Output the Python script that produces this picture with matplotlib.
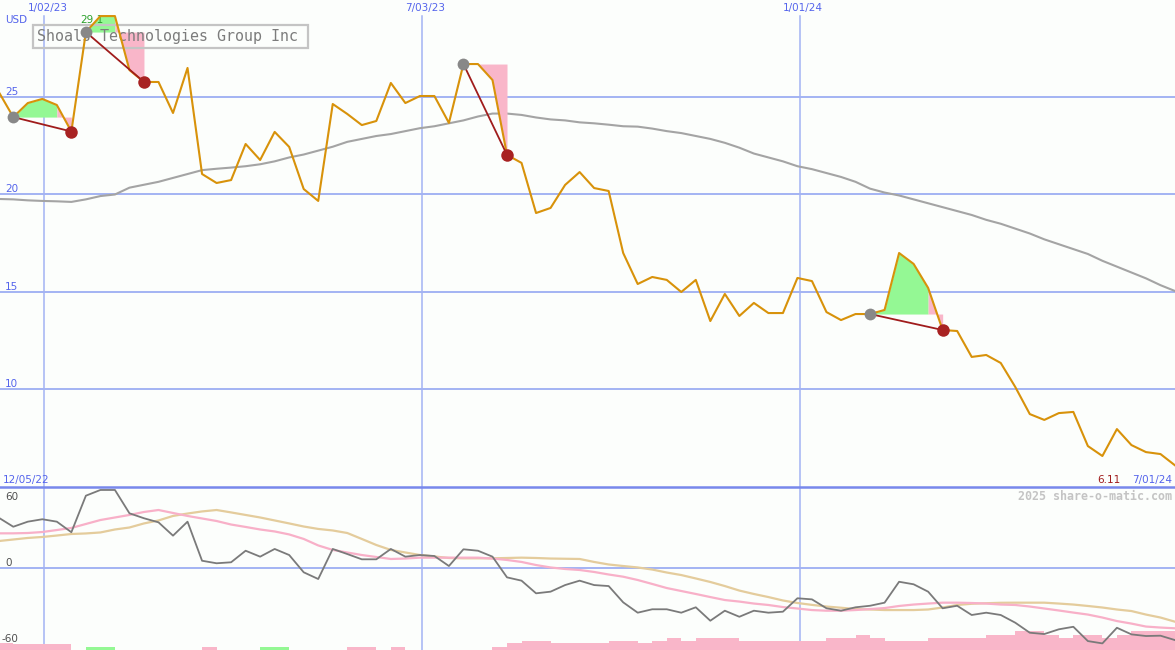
import pandas as pd
import numpy as np
import matplotlib
matplotlib.use('Agg')
import matplotlib.pyplot as plt
import matplotlib.transforms as mtransforms
from matplotlib.lines import Line2D
from matplotlib.patches import Rectangle

######################### Data ###############################################
first_week = '2022-12-11'
title = 'Shoals Technologies Group Inc'

# weekly closes (USD)
close = [25.26, 23.97, 24.69, 24.90, 24.59, 23.23, 28.33, 29.15, 29.15, 26.38,
         25.77, 25.77, 24.18, 26.49, 21.05, 20.59, 20.74, 22.59, 21.77, 23.21,
         22.44, 20.28, 19.67, 24.64, 24.13, 23.56, 23.77, 25.72, 24.69, 25.05,
         25.05, 23.67, 26.69, 26.69, 25.87, 22.03, 21.62, 19.05, 19.31, 20.49,
         21.15, 20.33, 20.18, 17.00, 15.41, 15.77, 15.62, 15.00, 15.62, 13.51,
         14.90, 13.77, 14.44, 13.92, 13.92, 15.72, 15.56, 13.97, 13.56, 13.87,
         13.87, 14.08, 17.00, 16.44, 15.21, 13.05, 13.00, 11.67, 11.77, 11.36,
         10.13, 8.74, 8.44, 8.79, 8.85, 7.10, 6.59, 7.97, 7.15, 6.79,
         6.69, 6.11]

# long moving average
ma_long = [19.77, 19.75, 19.70, 19.67, 19.65, 19.62, 19.75, 19.92, 20.00, 20.35,
           20.50, 20.65, 20.85, 21.05, 21.25, 21.32, 21.38, 21.45, 21.55, 21.70,
           21.90, 22.05, 22.25, 22.45, 22.70, 22.85, 23.00, 23.10, 23.25, 23.40,
           23.50, 23.65, 23.80, 24.00, 24.15, 24.15, 24.08, 23.95, 23.85, 23.80,
           23.70, 23.65, 23.58, 23.50, 23.48, 23.38, 23.25, 23.15, 23.00, 22.85,
           22.65, 22.40, 22.10, 21.90, 21.70, 21.45, 21.30, 21.10, 20.90, 20.65,
           20.30, 20.10, 19.95, 19.75, 19.55, 19.35, 19.15, 18.95, 18.70, 18.50,
           18.25, 18.00, 17.70, 17.45, 17.20, 16.95, 16.60, 16.30, 16.00, 15.70,
           15.35, 15.05]

# lower panel oscillator and its two averages
osc = [45.7, 37.5, 42.1, 44.3, 42.1, 32.5, 65.7, 70.9, 70.9, 49.7,
       45.2, 41.5, 29.4, 42.1, 6.6, 4.3, 5.2, 15.7, 10.3, 17.3,
       11.8, -3.9, -10.0, 17.3, 12.7, 7.9, 7.9, 17.3, 10.3, 11.8,
       10.9, 1.8, 17.0, 15.7, 10.3, -8.5, -11.5, -23.0, -21.5, -15.5,
       -11.5, -15.5, -16.4, -31.2, -40.6, -37.5, -37.5, -40.6, -35.7, -47.9,
       -38.8, -44.3, -38.8, -40.6, -39.7, -27.5, -28.5, -36.6, -38.8, -35.7,
       -34.3, -31.5, -12.5, -14.8, -21.5, -36.6, -34.3, -42.7, -40.6, -42.7,
       -49.7, -58.8, -60.0, -55.7, -53.4, -66.4, -68.5, -54.3, -60.3, -61.8,
       -61.5, -65.5]

osc_fast = [31.5, 31.5, 31.8, 32.7, 34.5, 36.4, 40.0, 43.6, 45.9, 48.2,
            50.9, 52.7, 50.0, 47.3, 45.0, 42.7, 39.5, 37.3, 35.0, 33.2,
            30.5, 26.4, 20.5, 16.4, 14.1, 11.8, 10.0, 8.2, 8.6, 9.4,
            9.4, 9.4, 9.4, 9.4, 8.6, 7.3, 5.5, 2.7, 0.5, -0.9,
            -1.8, -3.6, -5.9, -7.9, -10.9, -14.5, -18.2, -20.9, -23.6, -26.4,
            -29.1, -30.5, -32.3, -33.6, -35.5, -36.8, -38.2, -38.8, -38.8, -38.2,
            -37.3, -36.4, -34.5, -33.2, -32.3, -31.5, -31.5, -31.8, -32.3, -33.2,
            -33.6, -35.0, -36.8, -38.6, -40.5, -42.3, -45.0, -48.2, -50.5, -53.2,
            -54.1, -54.8]

osc_slow = [24.5, 25.9, 27.3, 28.2, 29.5, 30.9, 31.4, 32.3, 35.0, 36.8,
            40.5, 43.2, 47.3, 49.5, 51.4, 52.7, 50.5, 48.2, 45.9, 43.2,
            40.5, 37.7, 35.5, 34.1, 31.8, 26.4, 20.9, 16.4, 14.1, 11.8,
            10.5, 9.1, 8.8, 8.8, 8.8, 9.1, 9.4, 9.1, 8.6, 8.4,
            8.2, 5.5, 3.2, 1.8, 0.5, -1.4, -4.1, -6.4, -9.5, -12.7,
            -16.4, -20.5, -23.6, -26.4, -29.5, -31.8, -33.5, -35.0, -36.1, -37.3,
            -37.7, -38.2, -38.2, -38.2, -37.7, -35.9, -33.6, -32.5, -32.0, -31.6,
            -31.5, -31.5, -31.5, -32.3, -33.2, -34.5, -35.9, -37.7, -39.1, -42.3,
            -45.0, -48.8]

# signal bars at the bottom (+ green, - pink)
signal_bars = [-6.4, -5, -5, -5, -5, 0, 3, 3, 0, 0,
               0, 0, 0, 0, -3, 0, 0, 0, 3, 3,
               0, 0, 0, 0, -3, -3, 0, -3, 0, 0,
               0, 0, 0, 0, -3, -6, -8, -8, -6, -6,
               -6, -6, -8, -8, -6, -8, -11, -8, -11, -11,
               -11, -8, -8, -8, -8, -8, -8, -11, -11, -13.5,
               -11, -8, -8, -8, -11, -11, -11, -11, -13.5, -13.5,
               -17, -17, -13.5, -11, -13.5, -13.5, -11, -13.5, -17, -17,
               -17, 0]

# trades: positions in the weekly series
buy_weeks = [1, 6, 32, 60]
sell_weeks = [5, 10, 35, 65]

grid_dates = ['2023-01-02', '2023-07-03', '2024-01-01']
grid_labels = ['1/02/23', '7/03/23', '1/01/24']
price_ticks = [25, 20, 15, 10]
osc_ticks = [60, 0, -60]
peak_label = '29.1'
range_start, range_end = '12/05/22', '7/01/24'
last_close_label = '6.11'

######################### Style ##############################################
W, H = 1175, 650
BG = '#fcfefc'
GRID = '#a3b3f3'
BLUE = '#5464ec'
PRICE = '#d8920a'
GREEN = '#94f894'
PINK = '#f9b6c9'

def fx(x):
    return x / W

def fy(y):
    return 1 - y / H

dates = pd.date_range(first_week, periods=len(close), freq='7D')
x_left = dates[0] + pd.Timedelta(days=0.6)
x_right = dates[-1]

fig = plt.figure(figsize=(W / 100, H / 100), dpi=100, facecolor=BG)
ax = fig.add_axes([0, fy(487), 1, 487 / H])
ax2 = fig.add_axes([0, 0, 1, (H - 487) / H])
for a in (ax, ax2):
    a.set_facecolor(BG)
    a.axis('off')
    a.set_xlim(x_left, x_right)
ax.set_ylim(5.0, 29.974)
ax2.set_ylim(-74.5, 73.6)

######################### Main panel #########################################
for v in price_ticks:
    ax.axhline(v, color=GRID, lw=1.4, zorder=1)
    ax.text(fx(5), v, str(v), transform=mtransforms.blended_transform_factory(fig.transFigure, ax.transData),
            color=BLUE, fontsize=7.5, va='bottom', ha='left')
for d, lab in zip(grid_dates, grid_labels):
    d = pd.Timestamp(d)
    ax.axvline(d, ymax=(487 - 16) / 487, color=GRID, lw=1.1, zorder=1)
    ax2.axvline(d, color=GRID, lw=1.1, zorder=1)
    ax.text(d + pd.Timedelta(days=1.5), fy(8), lab, transform=mtransforms.blended_transform_factory(ax.transData, fig.transFigure),
            color=BLUE, fontsize=7.5, ha='center', va='center')

ax.plot(dates, ma_long, color='#a4a4a4', lw=1.5, zorder=2)

for b, s in zip(buy_weeks, sell_weeks):
    level = close[b]
    k = max(j for j in range(b, s + 1) if close[j] >= level)
    ax.fill_between(dates[b:k + 1], close[b:k + 1], level, color=GREEN, lw=0, zorder=2.2)
    ax.fill_between(dates[k:s + 1], close[k:s + 1], level, color=PINK, lw=0, zorder=2.2)

ax.add_patch(Rectangle((fx(33), fy(48)), fx(308) - fx(33), (48 - 25) / H, transform=fig.transFigure,
                       fill=False, ec='#c4c4c4', lw=1.6, zorder=2.5, clip_on=False))
ax.text(fx(37), fy(36.5), title, transform=fig.transFigure, family='DejaVu Sans Mono',
        fontsize=10.8, color='#7c7c7c', va='center', ha='left', zorder=2.6)
ax.text(fx(80), fy(20), peak_label, transform=fig.transFigure, color='#2ca02c',
        fontsize=7.5, va='center', ha='left', zorder=2.4)

ax.plot(dates, close, color=PRICE, lw=1.5, zorder=3)

for b, s in zip(buy_weeks, sell_weeks):
    ax.plot([dates[b], dates[s]], [close[b], close[s]], color='#a01c1c', lw=1.3, zorder=5)
    ax.plot(dates[b], close[b], 'o', ms=8.5, color='#888888', mec='none', zorder=6)
    ax.plot(dates[s], close[s], 'o', ms=9, color='#a82222', mec='none', zorder=6)

fig.text(fx(5), fy(20), 'USD', color=BLUE, fontsize=7.5, va='center', ha='left')
fig.text(fx(3), fy(480), range_start, color=BLUE, fontsize=7.5, va='center', ha='left')
fig.text(fx(1172), fy(480), range_end, color=BLUE, fontsize=7.5, va='center', ha='right')
fig.text(fx(1121), fy(480), last_close_label, color='#a01c1c', fontsize=7.5, va='center', ha='right')

######################### Lower panel ########################################
ax2.axhline(0, color=GRID, lw=1.4, zorder=1)
bar_colors = [GREEN if v > 0 else PINK for v in signal_bars]
ax2.bar(dates, np.abs(signal_bars), width=7, align='edge', bottom=-74.5,
        color=bar_colors, lw=0, zorder=1.5)
ax2.plot(dates, osc_slow, color='#e4cc9c', lw=1.6, zorder=2)
ax2.plot(dates, osc_fast, color='#f8b0c8', lw=1.6, zorder=2.1)
ax2.plot(dates, osc, color='#7a7a7a', lw=1.3, zorder=3)

blend2 = mtransforms.blended_transform_factory(fig.transFigure, ax2.transData)
for v in osc_ticks:
    ax2.text(fx(5) if v >= 0 else fx(2), v, str(v), transform=blend2, color='#505050',
             fontsize=7.5, va='bottom' if v >= 0 else 'top', ha='left')

fig.text(fx(1172), fy(496), '2025 share-o-matic.com', ha='right', va='center',
         family='DejaVu Sans Mono', weight='bold', fontsize=8.4, color='#c4c4c4')

fig.add_artist(Line2D([0, 1], [fy(487), fy(487)], color='#7888ec', lw=1.8))

fig.savefig('out.png', dpi=100, facecolor=BG)
